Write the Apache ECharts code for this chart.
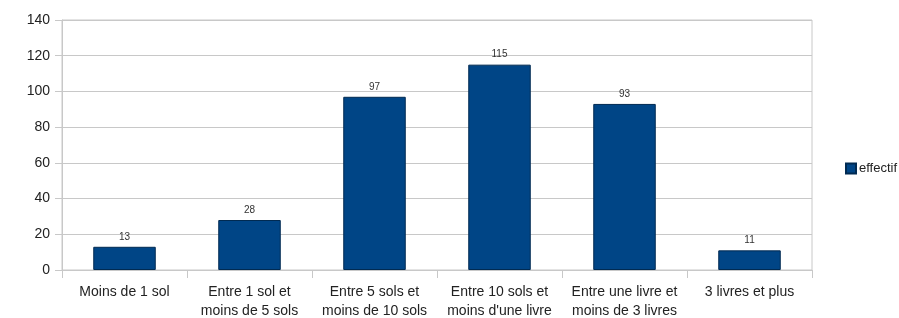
<!DOCTYPE html>
<html>
<head>
<meta charset="utf-8">
<script src="https://cdn.jsdelivr.net/npm/echarts@6/dist/echarts.min.js"></script>
<style>
  html, body { margin: 0; padding: 0; background: #fff; }
  #chart { width: 899px; height: 318px; }
</style>
</head>
<body>
<div id="chart"></div>
<script>
var categories = [
  'Moins de 1 sol',
  'Entre 1 sol et\nmoins de 5 sols',
  'Entre 5 sols et\nmoins de 10 sols',
  'Entre 10 sols et\nmoins d\'une livre',
  'Entre une livre et\nmoins de 3 livres',
  '3 livres et plus'
]
var effectif = [13, 28, 97, 115, 93, 11]
var yTicks = [0, 20, 40, 60, 80, 100, 120, 140]

var myChart = echarts.init(document.getElementById('chart'))
var option = {
  animation: false,
  textStyle: { fontFamily: 'Liberation Sans, Arial, sans-serif' },
  grid: {
    left: 62,
    right: 87,
    top: 20,
    bottom: 48,
    containLabel: false,
    outerBoundsMode: 'none',
    show: true,
    borderColor: '#c8c8c8',
    borderWidth: 1
  },
  legend: {
    data: ['effectif'],
    orient: 'vertical',
    left: 840,
    top: 157,
    itemWidth: 10,
    itemHeight: 10,
    itemGap: 4,
    icon: 'rect',
    textStyle: { color: '#222', fontSize: 13, padding: [0, 0, 0, -2] }
  },
  xAxis: {
    type: 'category',
    data: categories,
    axisLine: { lineStyle: { color: '#c8c8c8' } },
    axisTick: { show: true, length: 8, lineStyle: { color: '#c8c8c8' } },
    axisLabel: {
      color: '#222',
      fontSize: 14,
      lineHeight: 19,
      margin: 13,
      interval: 0
    }
  },
  yAxis: {
    type: 'value',
    min: yTicks[0],
    max: yTicks[yTicks.length - 1],
    interval: 20,
    axisLine: { show: true, lineStyle: { color: '#c8c8c8' } },
    axisTick: { show: true, length: 7, lineStyle: { color: '#c8c8c8' } },
    axisLabel: { color: '#222', fontSize: 14, margin: 12 },
    splitLine: { lineStyle: { color: '#c8c8c8' } }
  },
  series: [
    {
      name: 'effectif',
      type: 'bar',
      data: effectif,
      barWidth: '50%',
      itemStyle: {
        color: '#004586',
        borderColor: '#002a52',
        borderWidth: 1
      },
      label: {
        show: true,
        position: 'top',
        distance: 5,
        color: '#333',
        fontSize: 10
      }
    }
  ]
}
myChart.setOption(option)
</script>
</body>
</html>
